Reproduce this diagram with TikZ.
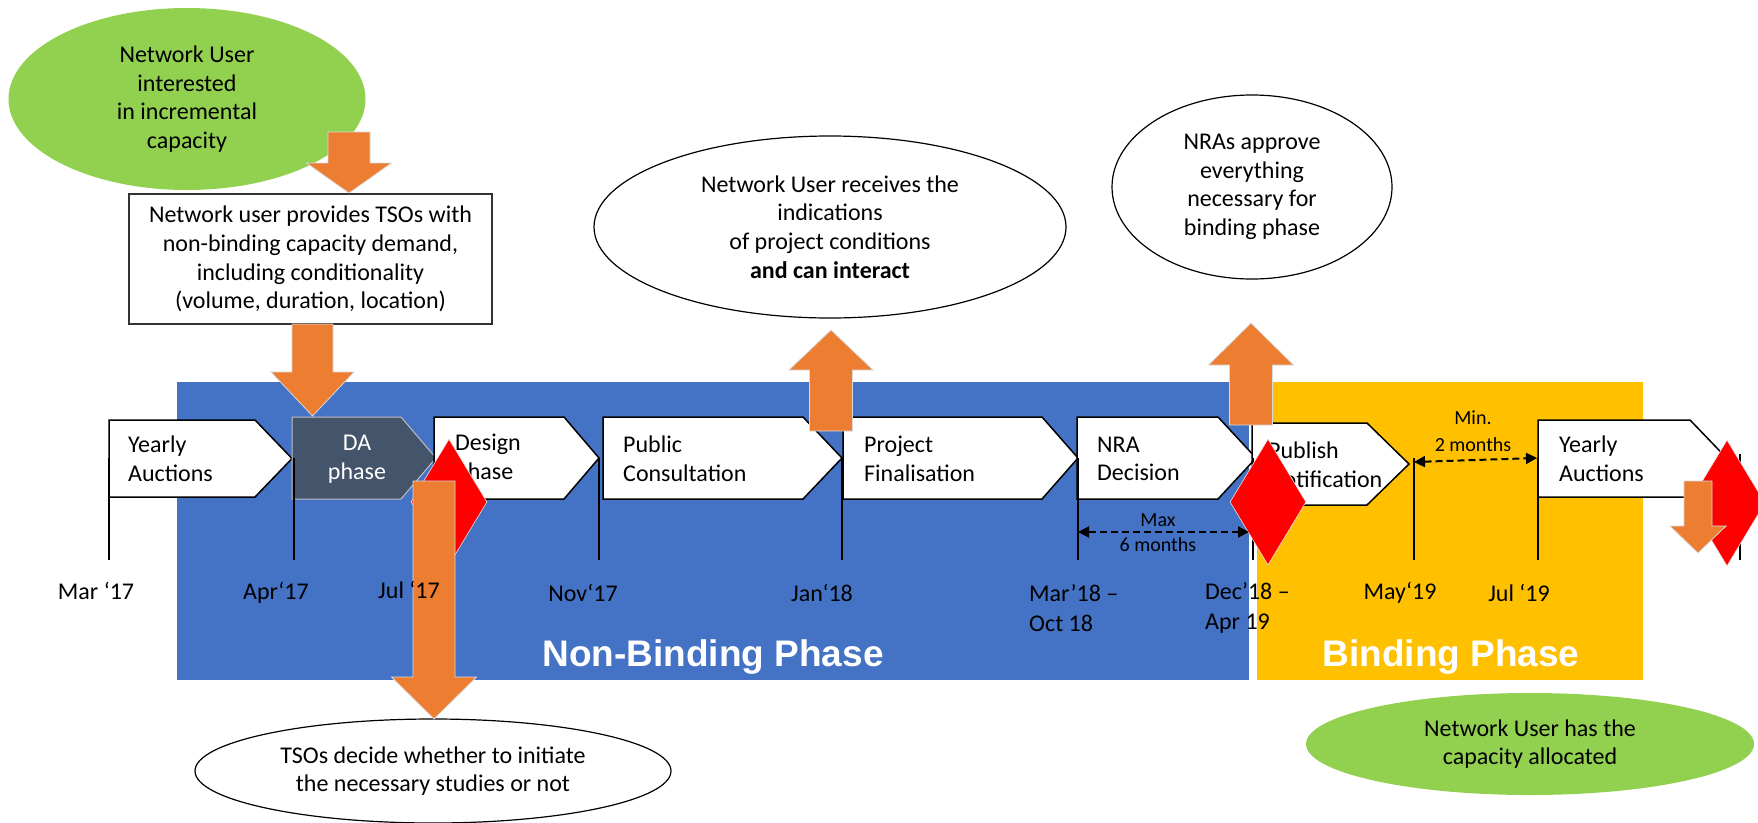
\documentclass[tikz,border=0pt]{standalone}
\usepackage{fontspec}
\setmainfont{Carlito}
\newfontfamily\phasefont{Liberation Sans}
\usetikzlibrary{shapes.geometric,arrows.meta}
\definecolor{cblue}{HTML}{4472C4}
\definecolor{cyellow}{HTML}{FFC000}
\definecolor{cgreen}{HTML}{92D050}
\definecolor{corange}{HTML}{ED7D31}
\definecolor{cslate}{HTML}{44546A}
\definecolor{cred}{HTML}{FF0000}
\newcommand\fsA{\fontsize{24}{28.7}\selectfont}
\newcommand\fsD{\fontsize{24}{30}\selectfont}
\newcommand\fsS{\fontsize{20}{25}\selectfont}
% block arrow: centre x, start y, shaft half width, head base y, head half width, tip y
\newcommand\OArrow[6]{\path[oarrow] (#1-#3,#2) -- (#1+#3,#2) -- (#1+#3,#4) -- (#1+#5,#4) -- (#1,#6) -- (#1-#5,#4) -- (#1-#3,#4) -- cycle;}
% chevron: style, left x, flat end x, tip x, top y, bottom y
\newcommand\Chev[6]{\path[#1] (#2,#5) -- (#3,#5) -- (#4,{(#5+#6)/2}) -- (#3,#6) -- (#2,#6) -- cycle;}
\begin{document}
\begin{tikzpicture}[x=1pt,y=-1pt,
  chevbox/.style={draw=black,line width=1.5pt,fill=white,line join=miter},
  dabox/.style={draw=white!75!black,line width=1pt,fill=cslate},
  oarrow/.style={fill=corange,draw=white!85!black,line width=0.8pt},
  tickline/.style={draw=black,line width=2pt},
  chevtext/.style={inner sep=0pt,align=left,anchor=west,font=\fsA},
  datetext/.style={inner sep=0pt,align=left,font=\fsD},
  redmark/.style={diamond,fill=cred,draw=white!90!black,line width=0.6pt,minimum width=76pt,minimum height=126pt,inner sep=0pt},
  bubble/.style={ellipse,inner sep=0pt,align=center,font=\fsA},
  dimline/.style={line width=2pt,dash pattern=on 7pt off 4pt,{Triangle[length=11pt,width=11pt]}-{Triangle[length=11pt,width=11pt]}},
  smalltext/.style={inner sep=0pt,font=\fsS},
  phasetext/.style={inner sep=0pt,anchor=base,text=white,font=\phasefont\bfseries\fontsize{37}{44}\selectfont}
]
\useasboundingbox (0,0) rectangle (1758,822);
% phase backgrounds
\fill[cblue] (177,382) rectangle (1249,680);
\fill[cyellow] (1257,382) rectangle (1643,680);
\node[phasetext] (nbp) at (713,666) {Non-Binding Phase};
\node[phasetext] (bp) at (1451,666) {Binding Phase};
% bubbles
\node[bubble,fill=cgreen,minimum width=357pt,minimum height=182pt] (e1) at (187,99) {Network User\\interested\\in incremental\\capacity};
\node[bubble,draw=black,line width=1.2pt,fill=white,minimum width=472pt,minimum height=182pt] (e2) at (830,227) {Network User receives the\\indications\\of project conditions\\\textbf{and can interact}};
\node[bubble,draw=black,line width=1.2pt,fill=white,minimum width=280pt,minimum height=184pt] (e3) at (1252,187) {NRAs approve\\everything\\necessary for\\binding phase};
\node[bubble,fill=cgreen,minimum width=448pt,minimum height=102pt] (e4) at (1530,744) {Network User has the\\capacity allocated};
\node[bubble,draw=black,line width=1.2pt,fill=white,minimum width=476pt,minimum height=104pt] (e5) at (433,771) {TSOs decide whether to initiate\\the necessary studies or not};
% request box
\node[draw=black!80,line width=1.5pt,fill=white,minimum width=363pt,minimum height=130pt,align=center,font=\fsA,inner sep=0pt] (req) at (310.5,259) {Network user provides TSOs with\\non-binding capacity demand,\\including conditionality\\(volume, duration, location)};
\OArrow{349}{132}{21}{163}{42.5}{193}
\OArrow{312.5}{324}{20.5}{372}{41.5}{416}
% chevrons
\Chev{chevbox}{109}{255}{292}{420}{497}
\Chev{dabox}{292}{401}{436}{417}{499}
\Chev{chevbox}{434}{564}{599}{417}{499}
\Chev{chevbox}{603}{803}{842}{417}{499}
\Chev{chevbox}{843}{1042}{1078}{417}{499}
\Chev{chevbox}{1077}{1218}{1256}{417}{499}
\Chev{chevbox}{1252}{1367}{1409}{423}{505}
\Chev{chevbox}{1538}{1690}{1727}{420}{497}
% ticks
\foreach \tx/\ty in {109/458,294/458,599/458,842/458,1078/458,1253/458,1414/458,1538/458,1740/454}
  \draw[tickline] (\tx,\ty) -- (\tx,560);
% chevron texts
\node[chevtext] (t1) at (128,459) {Yearly\\Auctions};
\node[inner sep=0pt,align=center,font=\fsA,text=white] (t2) at (357,459) {DA\\phase};
\node[chevtext] (t3) at (455,459) {Design\\phase};
\node[chevtext] (t4) at (623,459) {Public\\Consultation};
\node[chevtext] (t5) at (864,459) {Project\\Finalisation};
\node[chevtext] (t6) at (1097,459) {NRA\\Decision};
\node[chevtext] (t7) at (1268,465) {Publish\\Notification};
\node[chevtext] (t8) at (1559,459) {Yearly\\Auctions};
% red markers and orange arrows
\node[redmark] (m1) at (449,502) {};
\node[redmark] (m2) at (1268,502) {};
\node[redmark] (m3) at (1727,503) {};
\OArrow{434}{481}{21}{677}{42.5}{719}
\OArrow{831}{431}{21.5}{370}{42}{330}
\OArrow{1251}{425}{21.5}{365}{42.5}{323}
\OArrow{1698}{481}{14}{526}{28}{553}
% dates
\node[datetext] (d17a) at (96,591) {Mar ‘17};
\node[datetext] (d17b) at (276,593) {Apr‘17};
\node[datetext] (d17c) at (409,590) {Jul ‘17};
\node[datetext] (d17d) at (583,593) {Nov‘17};
\node[datetext] (d18a) at (822,593) {Jan‘18};
\node[datetext,anchor=west] (d18b) at (1029,608) {Mar’18 –\\Oct 18};
\node[datetext,anchor=west] (d18c) at (1205,608) {Dec’18 –\\Apr 19};
\node[datetext] (d19a) at (1400,593) {May‘19};
\node[datetext] (d19b) at (1519,593) {Jul ‘19};
% duration markers
\coordinate (mx1) at (1078,532);
\coordinate (mx2) at (1249,532);
\draw[dimline] (mx1) -- (mx2);
\node[smalltext] (mxa) at (1158,520) {Max};
\node[smalltext] (mxb) at (1158,545) {6 months};
\coordinate (mn1) at (1414,462);
\coordinate (mn2) at (1537,458);
\draw[dimline] (mn1) -- (mn2);
\node[smalltext] (mna) at (1473,418) {Min.};
\node[smalltext] (mnb) at (1473,445) {2 months};
\end{tikzpicture}
\end{document}
